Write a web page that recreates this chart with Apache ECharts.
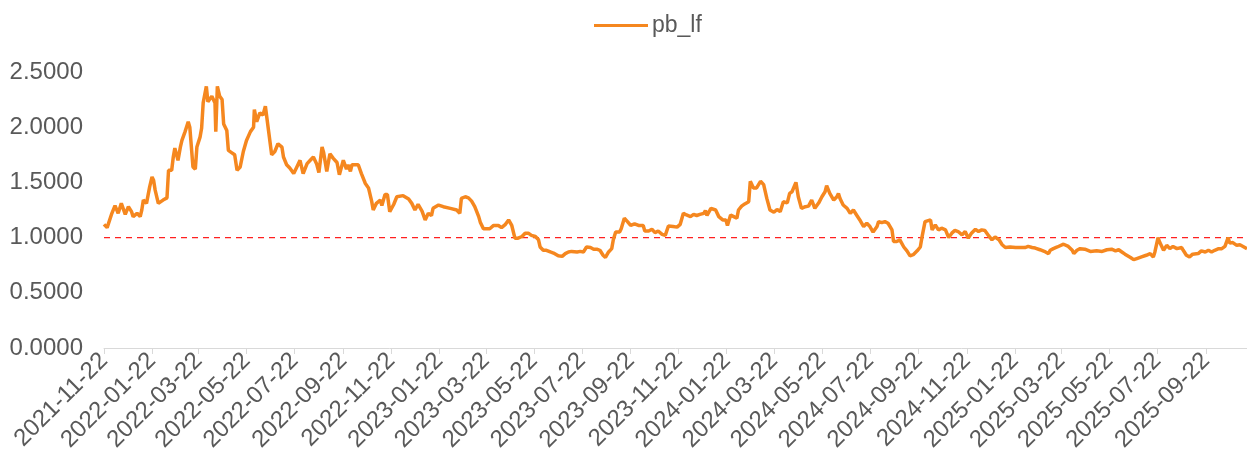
<!DOCTYPE html>
<html>
<head>
<meta charset="utf-8">
<script src="https://cdn.jsdelivr.net/npm/echarts@6/dist/echarts.min.js"></script>
<style>
  html, body { margin: 0; padding: 0; background: #fff; }
  #chart { width: 1247px; height: 459px; }
</style>
</head>
<body>
<div id="chart"></div>
<script>
const seriesName = 'pb_lf'

const dates = [
  '2021-11-22','2021-11-26','2021-12-02','2021-12-06','2021-12-10','2021-12-14','2021-12-19','2021-12-23','2021-12-27','2021-12-29',
  '2022-01-03','2022-01-07','2022-01-09','2022-01-11','2022-01-15','2022-01-19','2022-01-22','2022-01-24','2022-01-26','2022-01-30',
  '2022-02-05','2022-02-10','2022-02-12','2022-02-16','2022-02-18','2022-02-20','2022-02-24','2022-02-27',
  '2022-03-01','2022-03-05','2022-03-09','2022-03-11','2022-03-15','2022-03-18','2022-03-20','2022-03-24','2022-03-26','2022-03-28',
  '2022-04-01','2022-04-03','2022-04-08','2022-04-12','2022-04-13','2022-04-15','2022-04-18','2022-04-21','2022-04-23','2022-04-27','2022-04-29',
  '2022-05-03','2022-05-07','2022-05-10','2022-05-14','2022-05-18','2022-05-22','2022-05-27','2022-05-31',
  '2022-06-01','2022-06-04','2022-06-08','2022-06-12','2022-06-15','2022-06-19','2022-06-23','2022-06-27',
  '2022-07-01','2022-07-06','2022-07-08','2022-07-12','2022-07-16','2022-07-21','2022-07-25','2022-07-29',
  '2022-08-02','2022-08-07','2022-08-11','2022-08-15','2022-08-19','2022-08-22','2022-08-26','2022-08-28',
  '2022-09-01','2022-09-05','2022-09-09','2022-09-14','2022-09-17','2022-09-22','2022-09-26','2022-09-28',
  '2022-10-01','2022-10-03','2022-10-11','2022-10-15','2022-10-20','2022-10-24','2022-10-28','2022-10-30',
  '2022-11-03','2022-11-08','2022-11-10','2022-11-14','2022-11-17','2022-11-20','2022-11-25','2022-11-29',
  '2022-12-07','2022-12-14','2022-12-18','2022-12-22','2022-12-26','2022-12-31',
  '2023-01-04','2023-01-08','2023-01-12','2023-01-14','2023-01-21','2023-01-27',
  '2023-02-05','2023-02-13','2023-02-17','2023-02-19','2023-02-24','2023-02-28',
  '2023-03-04','2023-03-08','2023-03-13','2023-03-15','2023-03-19','2023-03-23','2023-03-27',
  '2023-04-01','2023-04-07','2023-04-11','2023-04-16','2023-04-20','2023-04-24','2023-04-26','2023-04-28',
  '2023-05-02','2023-05-07','2023-05-11','2023-05-15','2023-05-19','2023-05-24','2023-05-28','2023-05-30',
  '2023-06-03','2023-06-07','2023-06-12','2023-06-16','2023-06-22','2023-06-27',
  '2023-07-01','2023-07-05','2023-07-09','2023-07-16','2023-07-20','2023-07-24','2023-07-28',
  '2023-08-02','2023-08-06','2023-08-10','2023-08-14','2023-08-18','2023-08-21','2023-08-25','2023-08-29','2023-08-31',
  '2023-09-03','2023-09-08','2023-09-10','2023-09-14','2023-09-18','2023-09-22','2023-09-27',
  '2023-10-02','2023-10-08','2023-10-10','2023-10-15','2023-10-19','2023-10-23','2023-10-27',
  '2023-11-01','2023-11-05','2023-11-07','2023-11-09','2023-11-15','2023-11-20','2023-11-24','2023-11-28',
  '2023-12-02','2023-12-07','2023-12-11','2023-12-15','2023-12-19','2023-12-24','2023-12-26','2023-12-28',
  '2024-01-02','2024-01-04','2024-01-08','2024-01-12','2024-01-17','2024-01-21','2024-01-23','2024-01-25','2024-01-27','2024-01-31',
  '2024-02-04','2024-02-06','2024-02-10','2024-02-14','2024-02-19','2024-02-21','2024-02-25','2024-02-29',
  '2024-03-05','2024-03-09','2024-03-13','2024-03-17','2024-03-22','2024-03-26','2024-03-30',
  '2024-04-03','2024-04-08','2024-04-11','2024-04-14','2024-04-19','2024-04-22','2024-04-26',
  '2024-05-01','2024-05-05','2024-05-09','2024-05-13','2024-05-18','2024-05-22','2024-05-26','2024-05-28',
  '2024-06-01','2024-06-06','2024-06-10','2024-06-12','2024-06-14','2024-06-18','2024-06-23','2024-06-27',
  '2024-07-01','2024-07-05','2024-07-10','2024-07-14','2024-07-18','2024-07-22','2024-07-26','2024-07-31',
  '2024-08-02','2024-08-06','2024-08-10','2024-08-14','2024-08-19','2024-08-21','2024-08-25','2024-08-29',
  '2024-09-03','2024-09-07','2024-09-11','2024-09-15','2024-09-20','2024-09-24','2024-09-26','2024-09-30',
  '2024-10-07','2024-10-09','2024-10-13','2024-10-17','2024-10-21','2024-10-26','2024-10-30',
  '2024-11-03','2024-11-07','2024-11-11','2024-11-16','2024-11-20','2024-11-24','2024-11-28',
  '2024-12-03','2024-12-07','2024-12-11','2024-12-15','2024-12-20','2024-12-24','2024-12-28',
  '2025-01-02','2025-01-06','2025-01-10','2025-01-16','2025-01-23','2025-01-29',
  '2025-02-04','2025-02-08','2025-02-13','2025-02-17','2025-02-23',
  '2025-03-02','2025-03-06','2025-03-08','2025-03-12','2025-03-17','2025-03-25','2025-03-31',
  '2025-04-05','2025-04-07','2025-04-11','2025-04-15','2025-04-21','2025-04-28','2025-04-30',
  '2025-05-06','2025-05-13','2025-05-19','2025-05-25','2025-05-30',
  '2025-06-03','2025-06-07','2025-06-11','2025-06-18','2025-06-22','2025-06-26',
  '2025-07-02','2025-07-08','2025-07-13','2025-07-17','2025-07-19','2025-07-23','2025-07-25','2025-07-30',
  '2025-08-03','2025-08-07','2025-08-11','2025-08-16','2025-08-22','2025-08-24','2025-08-28',
  '2025-09-01','2025-09-05','2025-09-12','2025-09-16','2025-09-21','2025-09-25','2025-09-29',
  '2025-10-03','2025-10-08','2025-10-12','2025-10-16','2025-10-20','2025-10-22','2025-10-26','2025-10-31',
  '2025-11-04','2025-11-08','2025-11-13'
]

const pbValues = [
  1.12,1.09,1.22,1.29,1.22,1.31,1.21,1.28,1.235,1.19,
  1.22,1.19,1.25,1.34,1.31,1.46,1.55,1.52,1.43,1.31,
  1.34,1.36,1.61,1.61,1.73,1.81,1.70,1.82,
  1.88,1.96,2.05,2.00,1.64,1.62,1.82,1.91,1.99,2.22,
  2.37,2.23,2.28,2.22,1.96,2.37,2.28,2.25,2.03,1.97,1.79,
  1.77,1.75,1.61,1.64,1.78,1.88,1.96,2.00,
  2.16,2.05,2.13,2.11,2.19,1.97,1.75,1.78,
  1.85,1.82,1.73,1.66,1.63,1.58,1.64,1.70,
  1.58,1.67,1.70,1.73,1.67,1.59,1.82,1.77,
  1.60,1.76,1.72,1.68,1.57,1.70,1.62,1.66,
  1.60,1.66,1.66,1.58,1.49,1.45,1.33,1.25,
  1.31,1.34,1.29,1.39,1.39,1.235,1.30,1.37,
  1.38,1.35,1.31,1.25,1.30,1.24,
  1.16,1.22,1.20,1.265,1.295,1.28,
  1.265,1.25,1.22,1.355,1.37,1.36,
  1.33,1.28,1.19,1.14,1.08,1.08,1.08,
  1.11,1.11,1.09,1.12,1.16,1.11,1.12,0.995,
  0.995,1.01,1.04,1.04,1.02,1.01,0.98,0.915,
  0.885,0.885,0.87,0.86,0.835,0.83,
  0.855,0.87,0.875,0.87,0.875,0.87,0.915,
  0.91,0.895,0.895,0.885,0.84,0.82,0.87,0.90,0.98,
  1.05,1.05,1.08,1.175,1.145,1.11,1.125,
  1.11,1.11,1.06,1.06,1.075,1.045,1.06,
  1.03,1.02,1.02,1.105,1.10,1.095,1.12,1.22,
  1.205,1.19,1.21,1.20,1.21,1.22,1.245,1.20,
  1.265,1.28,1.25,1.19,1.16,1.16,1.11,1.10,1.205,1.19,
  1.175,1.25,1.285,1.305,1.325,1.51,1.45,1.45,
  1.51,1.48,1.355,1.25,1.23,1.255,1.235,
  1.325,1.315,1.40,1.415,1.50,1.37,1.265,
  1.28,1.285,1.34,1.265,1.315,1.37,1.415,1.47,
  1.40,1.34,1.37,1.40,1.355,1.295,1.265,1.22,
  1.25,1.205,1.15,1.10,1.13,1.10,1.05,1.10,
  1.145,1.135,1.145,1.13,1.07,0.965,0.965,0.98,
  0.915,0.88,0.835,0.845,0.88,0.915,1.00,1.145,
  1.16,1.07,1.115,1.07,1.085,1.07,1.00,
  1.04,1.065,1.055,1.025,1.055,0.995,1.04,
  1.075,1.055,1.07,1.065,1.015,0.98,1.005,
  0.98,0.935,0.91,0.915,0.91,0.91,
  0.91,0.92,0.91,0.905,0.89,
  0.87,0.855,0.885,0.90,0.915,0.94,0.92,
  0.885,0.855,0.885,0.90,0.895,0.875,0.86,
  0.88,0.875,0.89,0.895,0.88,
  0.89,0.87,0.85,0.82,0.80,0.81,
  0.825,0.84,0.855,0.825,0.87,1.00,0.96,0.885,
  0.93,0.90,0.92,0.90,0.91,0.885,0.84,
  0.825,0.85,0.855,0.88,0.87,0.885,0.87,
  0.885,0.90,0.90,0.92,1.00,0.95,0.955,0.93,
  0.935,0.92,0.90
]

const tickLabels = [
  '2021-11-22','2022-01-22','2022-03-22','2022-05-22','2022-07-22','2022-09-22',
  '2022-11-22','2023-01-22','2023-03-22','2023-05-22','2023-07-22','2023-09-22',
  '2023-11-22','2024-01-22','2024-03-22','2024-05-22','2024-07-22','2024-09-22',
  '2024-11-22','2025-01-22','2025-03-22','2025-05-22','2025-07-22','2025-09-22'
]

const refLevel = 1.0
const xMin = '2021-11-22'
const xMax = '2025-11-13'

function toTime(s) { return new Date(s + 'T00:00:00').getTime() }
function pad(n) { return n < 10 ? '0' + n : '' + n }
function fmtDate(t) {
  const d = new Date(t)
  return d.getFullYear() + '-' + pad(d.getMonth() + 1) + '-' + pad(d.getDate())
}

const tickTimes = tickLabels.map(toTime)
const lineData = dates.map((d, i) => [toTime(d), pbValues[i]])
// 参考线：单独一条虚线 series，不进图例
const refData = [[toTime(xMin), refLevel], [toTime(xMax), refLevel]]

const chart = echarts.init(document.getElementById('chart'))
const textColor = '#595959'
const font = 'Liberation Sans, Arial, sans-serif'

chart.setOption({
  animation: false,
  textStyle: { fontFamily: font },
  legend: {
    data: [seriesName],
    left: 589,
    top: 9,
    itemWidth: 54,
    itemHeight: 14,
    itemGap: 10,
    icon: 'path://M0,5.5 L54,5.5 L54,8.5 L0,8.5 Z',
    textStyle: { color: textColor, fontSize: 23, fontFamily: font, padding: [0, 0, 0, -1] }
  },
  grid: { left: 104, right: 0, top: 72, bottom: 111, containLabel: false },
  xAxis: {
    type: 'value',
    min: toTime(xMin),
    max: toTime(xMax),
    splitLine: { show: false },
    axisLine: { show: true, onZero: false, lineStyle: { color: '#d9d9d9', width: 1 } },
    axisTick: { show: true, length: 6, lineStyle: { color: '#d9d9d9' }, customValues: tickTimes },
    axisLabel: {
      rotate: 45,
      color: textColor,
      fontSize: 24,
      fontFamily: font,
      margin: 9,
      showMinLabel: true,
      showMaxLabel: true,
      customValues: tickTimes,
      formatter: v => fmtDate(v)
    }
  },
  yAxis: {
    type: 'value',
    min: 0,
    max: 2.5,
    interval: 0.5,
    axisLine: { show: false },
    axisTick: { show: false },
    splitLine: { show: false },
    axisLabel: {
      color: textColor,
      fontSize: 24,
      fontFamily: font,
      margin: 21,
      formatter: v => v.toFixed(4)
    }
  },
  series: [
    {
      name: 'ref',
      type: 'line',
      data: refData,
      showSymbol: false,
      symbol: 'none',
      silent: true,
      z: 1,
      lineStyle: { color: '#ff2020', type: [6, 5], width: 1.2 },
      itemStyle: { color: '#ff2020' }
    },
    {
      name: seriesName,
      type: 'line',
      data: lineData,
      showSymbol: false,
      symbol: 'none',
      z: 2,
      lineStyle: { color: '#f5871f', width: 3.5 },
      itemStyle: { color: '#f5871f' }
    }
  ]
})
</script>
</body>
</html>
